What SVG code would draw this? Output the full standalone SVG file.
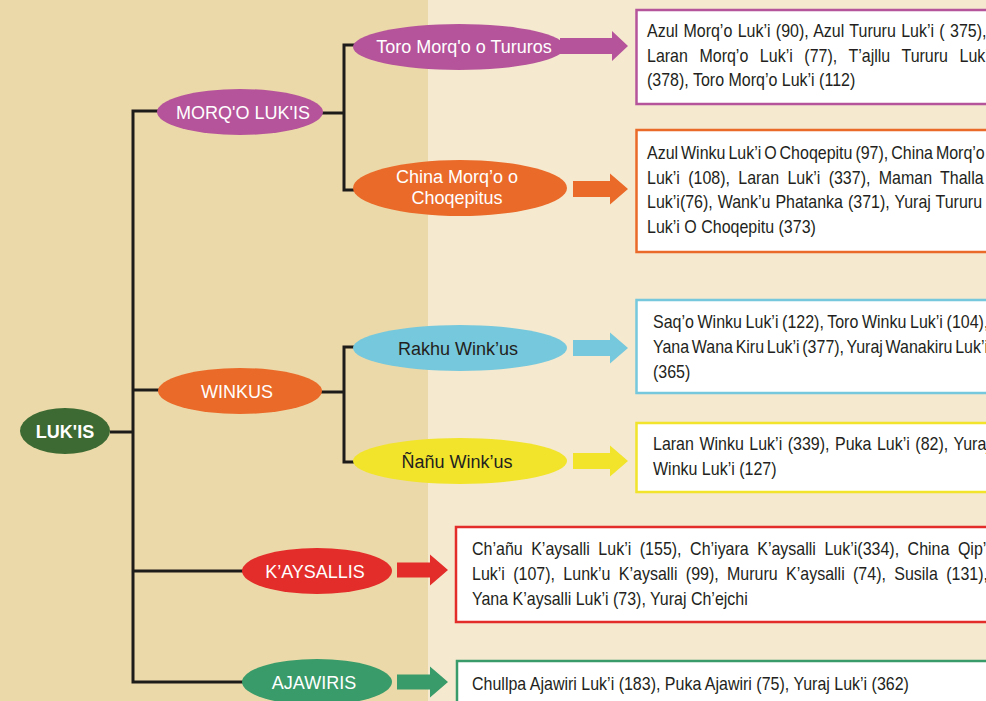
<svg xmlns="http://www.w3.org/2000/svg" xmlns:xlink="http://www.w3.org/1999/xlink" width="986" height="701" viewBox="0 0 986 701">
<style>
.conn{fill:none;stroke:#1e1c1a;stroke-width:3;stroke-linejoin:miter}
.lbl{font-family:"Liberation Sans",Arial,sans-serif;font-size:18px;text-anchor:middle;fill:#ffffff}
.dark{fill:#231f20}
.box{fill:#ffffff;stroke-width:2.5}
.txt{font-family:"Liberation Sans",Arial,sans-serif;font-size:18px;fill:#231f20}
</style>
<defs>
<path id="arrA" d="M0,-8 H37 V-15.5 L55,0 L37,15.5 V8 H0 Z"/>
<path id="arrB" d="M0,-7.5 H33 V-15.5 L51,0 L33,15.5 V7.5 H0 Z"/>
</defs>
<rect x="0" y="0" width="986" height="701" fill="#f5e9cf"/>
<rect x="0" y="0" width="428" height="701" fill="#ecd9a9"/>

<g id="connectors">
<path class="conn" d="M110,432 H133"/>
<path class="conn" d="M160,111 H133 V682 H245"/>
<path class="conn" d="M133,390 H160"/>
<path class="conn" d="M133,571 H245"/>
<path class="conn" d="M322,113 H344"/>
<path class="conn" d="M357,45 H344 V190 H357"/>
<path class="conn" d="M321,392 H344"/>
<path class="conn" d="M357,347 H344 V462 H357"/>
</g>

<g id="lukis">
<ellipse cx="65" cy="431" rx="45" ry="23" fill="#3c6a32"/>
<text class="lbl" x="65" y="437.5" font-weight="bold">LUK'IS</text>
</g>

<g id="morqo-lukis">
<ellipse cx="240" cy="112" rx="83" ry="23" fill="#b5549a"/>
<text class="lbl" x="243" y="118.5">MORQ'O LUK'IS</text>
</g>

<g id="toro-morqo">
<ellipse cx="459" cy="47" rx="106" ry="23" fill="#b5549a"/>
<path d="M560,38 H612 V31 L628,46 L612,61 V54 H560 Z" fill="#b5549a"/>
<text class="lbl" x="464" y="53">Toro Morq'o o Tururos</text>
</g>

<g id="china-morqo">
<ellipse cx="460" cy="188" rx="107" ry="28" fill="#ea6a29"/>
<text class="lbl" x="457" y="183">China Morq’o o</text>
<text class="lbl" x="457" y="204">Choqepitus</text>
<use xlink:href="#arrA" x="573" y="189" fill="#ea6a29"/>
</g>

<g id="winkus">
<ellipse cx="240" cy="391" rx="82" ry="23" fill="#ea6a29"/>
<text class="lbl" x="237" y="397.5">WINKUS</text>
</g>

<g id="rakhu-winkus">
<ellipse cx="460" cy="348" rx="107" ry="23" fill="#76c8dc"/>
<text class="lbl dark" x="458" y="354.5">Rakhu Wink’us</text>
<use xlink:href="#arrA" x="573" y="348" fill="#76c8dc"/>
</g>

<g id="nanu-winkus">
<ellipse cx="460" cy="461" rx="107" ry="23" fill="#f1e42a"/>
<text class="lbl dark" x="457" y="467.5">Ñañu Wink’us</text>
<use xlink:href="#arrA" x="573" y="461" fill="#f1e42a"/>
</g>

<g id="kaysallis">
<ellipse cx="317" cy="571" rx="75" ry="23" fill="#e32d2a"/>
<text class="lbl" x="315" y="577.5">K’AYSALLIS</text>
<use xlink:href="#arrB" x="397" y="570" fill="#e32d2a"/>
</g>

<g id="ajawiris">
<ellipse cx="317" cy="682" rx="75" ry="23" fill="#389b69"/>
<text class="lbl" x="314" y="688.5">AJAWIRIS</text>
<use xlink:href="#arrB" x="397" y="682" fill="#389b69"/>
</g>

<g id="box-toro">
<rect class="box" x="636.5" y="10" width="400" height="94" stroke="#b5549a"/>
<text class="txt" transform="matrix(0.889 0 0 1 647 0)" x="0" y="37" word-spacing="1">Azul Morq’o Luk’i (90), Azul Tururu Luk’i ( 375),</text>
<text class="txt" transform="matrix(0.889 0 0 1 647 0)" x="0" y="62" word-spacing="8">Laran Morq’o Luk’i (77), T’ajllu Tururu Luk’i</text>
<text class="txt" transform="matrix(0.889 0 0 1 647 0)" x="0" y="86">(378), Toro Morq’o Luk’i (112)</text>
</g>

<g id="box-china">
<rect class="box" x="636.5" y="130" width="400" height="122" stroke="#ea6a29"/>
<text class="txt" transform="matrix(0.889 0 0 1 647 0)" x="0" y="159" word-spacing="-1.7">Azul Winku Luk’i O Choqepitu (97), China Morq’o</text>
<text class="txt" transform="matrix(0.889 0 0 1 647 0)" x="0" y="184" word-spacing="4.35">Luk’i (108), Laran Luk’i (337), Maman Thalla</text>
<text class="txt" transform="matrix(0.889 0 0 1 647 0)" x="0" y="208" word-spacing="0.6">Luk’i(76), Wank’u Phatanka (371), Yuraj Tururu</text>
<text class="txt" transform="matrix(0.889 0 0 1 647 0)" x="0" y="233">Luk’i O Choqepitu (373)</text>
</g>

<g id="box-rakhu">
<rect class="box" x="636.5" y="300" width="400" height="93" stroke="#76c8dc"/>
<text class="txt" transform="matrix(0.889 0 0 1 653 0)" x="0" y="328" word-spacing="-0.9">Saq’o Winku Luk’i (122), Toro Winku Luk’i (104),</text>
<text class="txt" transform="matrix(0.889 0 0 1 653 0)" x="0" y="353" word-spacing="-2">Yana Wana Kiru Luk’i (377), Yuraj Wanakiru Luk’i</text>
<text class="txt" transform="matrix(0.889 0 0 1 653 0)" x="0" y="378">(365)</text>
</g>

<g id="box-nanu">
<rect class="box" x="636.5" y="423" width="400" height="69" stroke="#f1e42a"/>
<text class="txt" transform="matrix(0.889 0 0 1 653 0)" x="0" y="450" word-spacing="1.2">Laran Winku Luk’i (339), Puka Luk’i (82), Yuraj</text>
<text class="txt" transform="matrix(0.889 0 0 1 653 0)" x="0" y="475">Winku Luk’i (127)</text>
</g>

<g id="box-kaysallis">
<rect class="box" x="456" y="527" width="600" height="95" stroke="#e32d2a"/>
<text class="txt" transform="matrix(0.889 0 0 1 472 0)" x="0" y="555" word-spacing="4.6">Ch’añu K’aysalli Luk’i (155), Ch’iyara K’aysalli Luk’i(334), China Qip’i</text>
<text class="txt" transform="matrix(0.889 0 0 1 472 0)" x="0" y="580" word-spacing="4.4">Luk’i (107), Lunk’u K’aysalli (99), Mururu K’aysalli (74), Susila (131),</text>
<text class="txt" transform="matrix(0.889 0 0 1 472 0)" x="0" y="605">Yana K’aysalli Luk’i (73), Yuraj Ch’ejchi</text>
</g>

<g id="box-ajawiris">
<rect class="box" x="457" y="661" width="600" height="60" stroke="#389b69"/>
<text class="txt" transform="matrix(0.889 0 0 1 472 0)" x="0" y="690">Chullpa Ajawiri Luk’i (183), Puka Ajawiri (75), Yuraj Luk’i (362)</text>
</g>
</svg>
